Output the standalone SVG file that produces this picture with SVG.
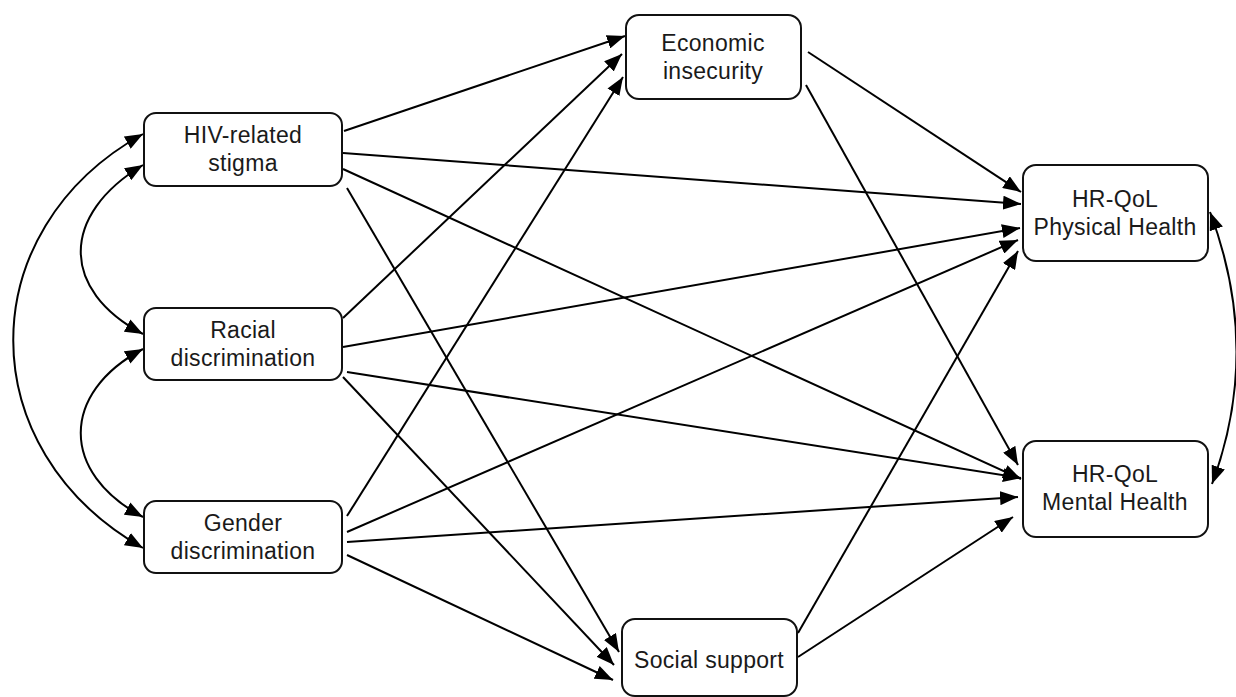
<svg xmlns="http://www.w3.org/2000/svg" width="1236" height="697" viewBox="0 0 1236 697">
<style>
.box{fill:#fff;stroke:#111;stroke-width:2}
.lbl{font-family:"Liberation Sans",Arial,sans-serif;font-size:23px;letter-spacing:0.3px;fill:#1a1a1a;text-anchor:middle}
.c{fill:none;stroke:#000;stroke-width:2}
</style>
<defs>
<marker id="ah" viewBox="0 0 18 14" refX="18" refY="7" markerWidth="18" markerHeight="14" markerUnits="userSpaceOnUse" orient="auto-start-reverse">
<path d="M0,0 L18,7 L0,14 z" fill="#000"/>
</marker>
</defs>
<rect width="1236" height="697" fill="#fff"/>
<g id="connectors">
<line class="c" x1="344" y1="131" x2="625" y2="36" marker-end="url(#ah)"/>
<line class="c" x1="343" y1="153" x2="1021" y2="204" marker-end="url(#ah)"/>
<line class="c" x1="343" y1="169" x2="1021" y2="479" marker-end="url(#ah)"/>
<line class="c" x1="347" y1="188" x2="619" y2="652" marker-end="url(#ah)"/>
<line class="c" x1="343" y1="318" x2="622" y2="54" marker-end="url(#ah)"/>
<line class="c" x1="343" y1="347" x2="1020" y2="228" marker-end="url(#ah)"/>
<line class="c" x1="347" y1="372" x2="1021" y2="478" marker-end="url(#ah)"/>
<line class="c" x1="343" y1="377" x2="614" y2="665" marker-end="url(#ah)"/>
<line class="c" x1="347" y1="516" x2="623" y2="77" marker-end="url(#ah)"/>
<line class="c" x1="347" y1="532" x2="1018" y2="240" marker-end="url(#ah)"/>
<line class="c" x1="347" y1="542" x2="1018" y2="497" marker-end="url(#ah)"/>
<line class="c" x1="347" y1="555" x2="613" y2="680" marker-end="url(#ah)"/>
<line class="c" x1="808" y1="52" x2="1021" y2="192" marker-end="url(#ah)"/>
<line class="c" x1="806" y1="85" x2="1018" y2="465" marker-end="url(#ah)"/>
<line class="c" x1="798" y1="633" x2="1018" y2="251" marker-end="url(#ah)"/>
<line class="c" x1="798" y1="657" x2="1013" y2="517" marker-end="url(#ah)"/>
<path class="c" d="M143,165 C60,215 60,290 143,334" marker-start="url(#ah)" marker-end="url(#ah)"/>
<path class="c" d="M143,349 C60,393 60,473 143,517" marker-start="url(#ah)" marker-end="url(#ah)"/>
<path class="c" d="M143,134 C-30,230 -30,450 143,548" marker-start="url(#ah)" marker-end="url(#ah)"/>
<path class="c" d="M1210,212 Q1262,350 1212,484" marker-start="url(#ah)" marker-end="url(#ah)"/>
</g>
<g id="hiv">
<rect class="box" x="144" y="113" width="198" height="73" rx="12"/>
<text class="lbl" x="243" y="143">HIV-related</text>
<text class="lbl" x="243" y="171">stigma</text>
</g>
<g id="racial">
<rect class="box" x="144" y="308" width="198" height="72" rx="12"/>
<text class="lbl" x="243" y="338">Racial</text>
<text class="lbl" x="243" y="366">discrimination</text>
</g>
<g id="gender">
<rect class="box" x="144" y="501" width="198" height="72" rx="12"/>
<text class="lbl" x="243" y="531">Gender</text>
<text class="lbl" x="243" y="559">discrimination</text>
</g>
<g id="economic">
<rect class="box" x="626" y="15" width="175" height="84" rx="13"/>
<text class="lbl" x="713" y="51">Economic</text>
<text class="lbl" x="713" y="79">insecurity</text>
</g>
<g id="social">
<rect class="box" x="622" y="619" width="175" height="77" rx="13"/>
<text class="lbl" x="709" y="668">Social support</text>
</g>
<g id="physical">
<rect class="box" x="1023" y="165" width="185" height="96" rx="13"/>
<text class="lbl" x="1115" y="207">HR-QoL</text>
<text class="lbl" x="1115" y="235">Physical Health</text>
</g>
<g id="mental">
<rect class="box" x="1023" y="441" width="185" height="96" rx="13"/>
<text class="lbl" x="1115" y="482">HR-QoL</text>
<text class="lbl" x="1115" y="510">Mental Health</text>
</g>
</svg>
